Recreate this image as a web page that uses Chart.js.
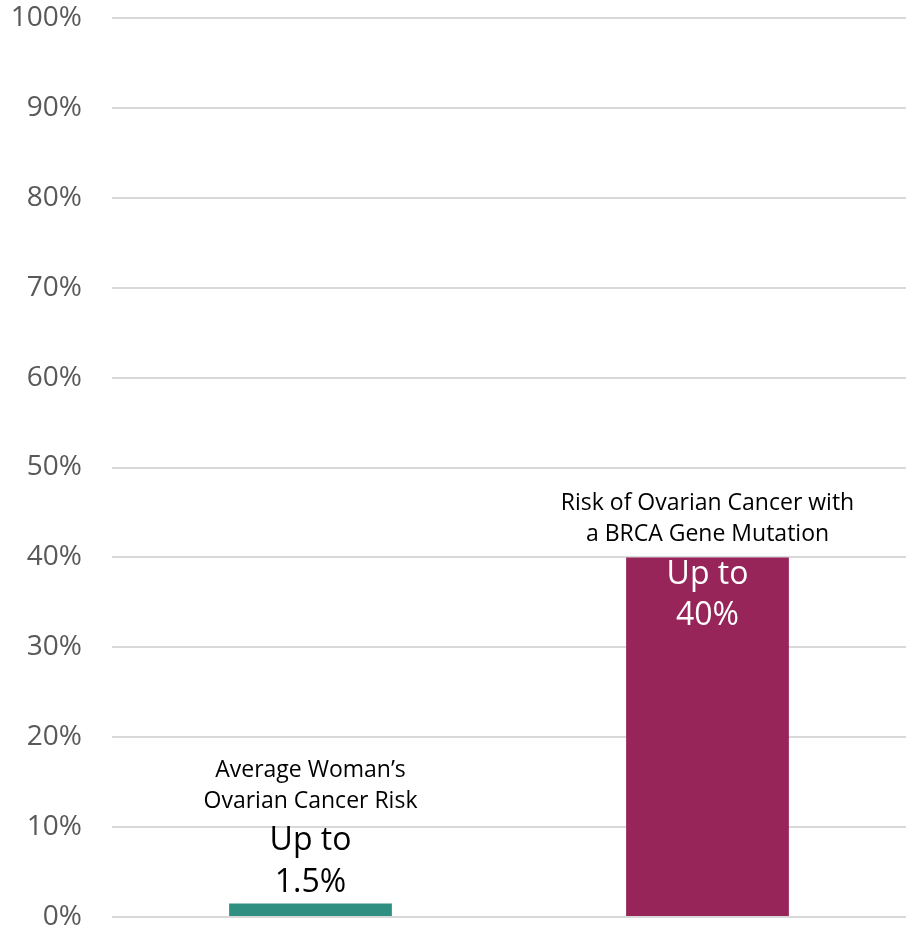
<!DOCTYPE html>
<html>
<head>
<meta charset="utf-8">
<script src="https://cdn.jsdelivr.net/npm/chart.js@4.4.1/dist/chart.umd.min.js"></script>
<style>
  html, body { margin: 0; padding: 0; background: #fff; }
  #wrap { width: 906px; height: 929px; position: relative; }
</style>
</head>
<body>
<div id="wrap"><canvas id="riskChart"></canvas></div>
<script>
// Data
var categories = [
    ["Average Woman\u2019s", "Ovarian Cancer Risk"],
    ["Risk of Ovarian Cancer with", "a BRCA Gene Mutation"]
];
var riskValues = [1.5, 40];
var valueLabels = [["Up to", "1.5%"], ["Up to", "40%"]];
var barColors = ["#2f9082", "#97255a"];
var yTicks = [0, 10, 20, 30, 40, 50, 60, 70, 80, 90, 100];

var FONT = "'Open Sans', 'Noto Sans', sans-serif";

// draws the value text and the category text for every bar
var barText = {
    id: "barText",
    afterDatasetsDraw: function (chart) {
        var ctx = chart.ctx;
        var meta = chart.getDatasetMeta(0);
        ctx.save();
        ctx.textAlign = "center";
        ctx.textBaseline = "middle";
        meta.data.forEach(function (bar, i) {
            var x = bar.x;
            var top = bar.y;
            var height = bar.base - bar.y;
            var lines = valueLabels[i];
            var catBottom;
            ctx.font = "32px " + FONT;
            if (height > 100) {
                // inside the bar, white
                ctx.fillStyle = "#ffffff";
                lines.forEach(function (t, k) {
                    ctx.fillText(t, x, top + 17 + k * 41);
                });
                catBottom = top - 23;
            } else {
                ctx.fillStyle = "#000000";
                lines.forEach(function (t, k) {
                    ctx.fillText(t, x, top - 21 - (lines.length - 1 - k) * 42);
                });
                catBottom = top - 21 - (lines.length - 1) * 42 - 39;
            }
            ctx.font = "23px " + FONT;
            ctx.fillStyle = "#000000";
            var cat = categories[i];
            cat.forEach(function (t, k) {
                ctx.fillText(t, x, catBottom - (cat.length - 1 - k) * 31);
            });
        });
        ctx.restore();
    }
};

new Chart("riskChart", {
    type: "bar",
    data: {
        labels: categories,
        datasets: [{
            data: riskValues,
            backgroundColor: barColors,
            barPercentage: 0.41,
            categoryPercentage: 1,
        }],
    },
    options: {
        responsive: true,
        maintainAspectRatio: false,
        animation: false,
        layout: {
            padding: { top: 18, bottom: 12, right: 0, left: 0 },
        },
        plugins: {
            legend: { display: false },
            tooltip: { enabled: false },
            title: { display: false },
        },
        scales: {
            x: {
                display: false,
            },
            y: {
                min: 0,
                max: 100,
                afterBuildTicks: function (scale) {
                    scale.ticks = yTicks.map(function (v) { return { value: v }; });
                },
                afterFit: function (scale) {
                    scale.width = 112;
                    scale.paddingTop = 0;
                    scale.paddingBottom = 0;
                },
                border: { display: false },
                grid: {
                    color: "#d9d9d9",
                    lineWidth: 2,
                    drawTicks: false,
                },
                ticks: {
                    padding: 30,
                    color: "#595959",
                    font: { family: FONT, size: 28 },
                    callback: function (v) { return v + "%"; },
                },
            },
        },
    },
    plugins: [barText],
});
</script>
</body>
</html>
